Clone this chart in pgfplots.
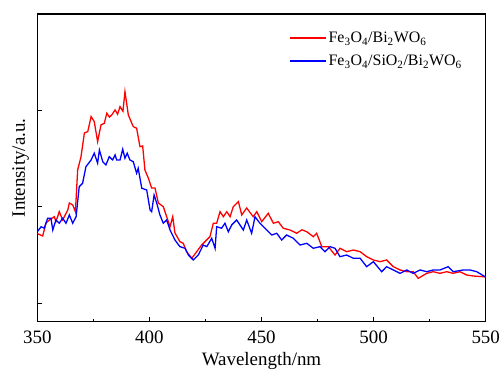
\documentclass[border=0pt]{standalone}
\usepackage{fontspec}
\setmainfont{Liberation Serif}
\usepackage{pgfplots}
\pgfplotsset{compat=1.18}
\begin{document}
\begin{tikzpicture}
\begin{axis}[
  name=ax,
  scale only axis,
  width=448.4bp, height=307.7bp,
  xmin=350, xmax=550, ymin=-0.194, ymax=3,
  xtick={350,400,450,500,550},
  minor xtick={375,425,475,525},
  ytick={0,1,2,3},
  yticklabels={},
  tick align=inside,
  xtick pos=bottom, ytick pos=left,
  major tick length=5bp, minor tick length=3bp,
  axis line style={line width=1.1pt},
  tick style={line width=0.8pt, black},
  /pgf/number format/assume math mode=true,
  /pgf/number format/1000 sep={},
  tick label style={font=\fontsize{19}{22}\selectfont},
  xticklabel style={yshift=-6bp},
  label style={font=\fontsize{19}{22}\selectfont},
  xlabel={Wavelength/nm},
  ylabel={Intensity/a.u.},
  xlabel style={inner sep=0pt, yshift=-4.5bp},
  ylabel style={yshift=-2bp},
  legend style={draw=none, fill=none, font=\fontsize{16}{19}\selectfont,
    at={(0.555,0.955)}, anchor=north west, row sep=7bp},
  legend cell align=left,
  legend image code/.code={\draw[#1] (0bp,0bp) -- (36bp,0bp);},
]
\addplot[red, line width=1.3pt] coordinates {
(350.0,0.720)(352.4,0.696)(353.9,0.831)(355.4,0.862)(357.6,0.896)(358.3,0.844)
(359.8,0.948)(361.3,0.862)(363.6,0.966)(364.3,1.038)(365.8,1.018)(367.0,0.948)
(368.0,1.381)(369.5,1.519)(371.0,1.765)(372.5,1.779)(374.0,1.935)(375.4,1.883)
(376.9,1.675)(378.4,1.848)(379.9,1.866)(381.0,1.970)(382.2,1.930)(383.2,1.952)
(384.7,2.004)(385.8,1.960)(386.9,2.038)(388.2,1.990)(389.1,2.194)(390.6,1.952)
(392.8,1.831)(394.3,1.814)(395.8,1.623)(397.0,1.630)(398.0,1.381)(399.5,1.298)
(401.0,1.194)(402.5,1.194)(404.0,1.038)(406.2,1.000)(407.7,0.896)(409.2,0.792)
(410.4,0.896)(411.4,0.727)(413.6,0.637)(415.1,0.620)(416.6,0.533)(418.9,0.464)
(421.1,0.533)(423.3,0.602)(424.8,0.637)(427.0,0.688)(428.5,0.828)(430.0,0.828)
(431.5,0.948)(433.0,0.896)(434.5,0.948)(436.0,0.896)(437.4,1.000)(439.7,1.052)
(441.2,0.914)(443.4,0.986)(446.3,0.896)(447.9,0.948)(450.1,0.844)(453.0,0.931)
(455.3,0.828)(457.5,0.844)(459.7,0.776)(462.7,0.758)(465.7,0.724)(468.0,0.760)
(470.2,0.740)(473.1,0.688)(474.6,0.724)(476.9,0.585)(479.8,0.585)(482.8,0.498)
(485.0,0.568)(488.0,0.533)(491.0,0.550)(494.0,0.533)(496.9,0.481)(499.9,0.447)
(502.9,0.429)(505.8,0.447)(508.8,0.377)(511.8,0.343)(514.8,0.325)(517.7,0.325)
(519.9,0.256)(523.7,0.308)(526.6,0.325)(529.6,0.308)(532.6,0.325)(535.5,0.308)
(538.5,0.325)(541.5,0.291)(544.5,0.280)(548.9,0.273)(550.0,0.270)
};
\addlegendentry{Fe\textsubscript{3}O\textsubscript{4}/Bi\textsubscript{2}WO\textsubscript{6}}
\addplot[blue, line width=1.3pt] coordinates {
(350.0,0.740)(351.7,0.792)(353.1,0.776)(354.6,0.880)(356.1,0.880)(356.9,0.758)
(358.3,0.862)(359.8,0.828)(361.3,0.880)(362.8,0.828)(364.3,0.914)(365.8,0.828)
(367.3,0.896)(368.7,1.208)(370.2,1.243)(371.7,1.415)(374.0,1.485)(375.4,1.555)
(376.9,1.451)(377.7,1.589)(379.2,1.467)(380.6,1.433)(382.1,1.519)(383.6,1.485)
(384.7,1.537)(385.4,1.485)(386.9,1.485)(388.1,1.596)(389.1,1.503)(390.1,1.555)
(391.3,1.485)(392.8,1.467)(394.3,1.347)(395.0,1.399)(396.6,1.191)(398.8,1.173)
(400.3,0.966)(401.0,0.948)(402.1,1.121)(403.3,1.035)(404.7,0.914)(406.2,0.828)
(407.7,0.862)(409.2,0.758)(411.4,0.654)(413.6,0.585)(415.9,0.568)(417.4,0.498)
(419.6,0.447)(421.8,0.498)(424.0,0.602)(425.6,0.585)(427.8,0.672)(429.3,0.568)
(430.0,0.792)(432.2,0.776)(433.7,0.828)(435.2,0.740)(436.7,0.810)(438.9,0.862)
(441.9,0.758)(443.4,0.862)(445.6,0.724)(447.1,0.896)(449.3,0.828)(452.3,0.758)
(454.6,0.706)(456.8,0.724)(459.0,0.654)(461.2,0.706)(464.2,0.672)(467.2,0.602)
(470.2,0.620)(473.1,0.568)(476.1,0.585)(478.3,0.533)(480.6,0.585)(482.8,0.568)
(485.0,0.481)(488.0,0.498)(491.0,0.464)(494.0,0.464)(496.9,0.377)(499.9,0.429)
(503.6,0.325)(505.8,0.377)(508.8,0.343)(511.8,0.308)(514.8,0.343)(517.7,0.308)
(520.7,0.343)(523.7,0.325)(526.6,0.343)(529.6,0.343)(533.3,0.377)(535.5,0.325)
(540.0,0.343)(543.0,0.343)(546.0,0.325)(549.7,0.273)(550.0,0.270)
};
\addlegendentry{Fe\textsubscript{3}O\textsubscript{4}/SiO\textsubscript{2}/Bi\textsubscript{2}WO\textsubscript{6}}
\end{axis}
\pgfresetboundingbox
\path ([xshift=-37.3bp,yshift=-49.3bp]ax.south west) rectangle ([xshift=16.3bp,yshift=14bp]ax.north east);
\end{tikzpicture}
\end{document}
